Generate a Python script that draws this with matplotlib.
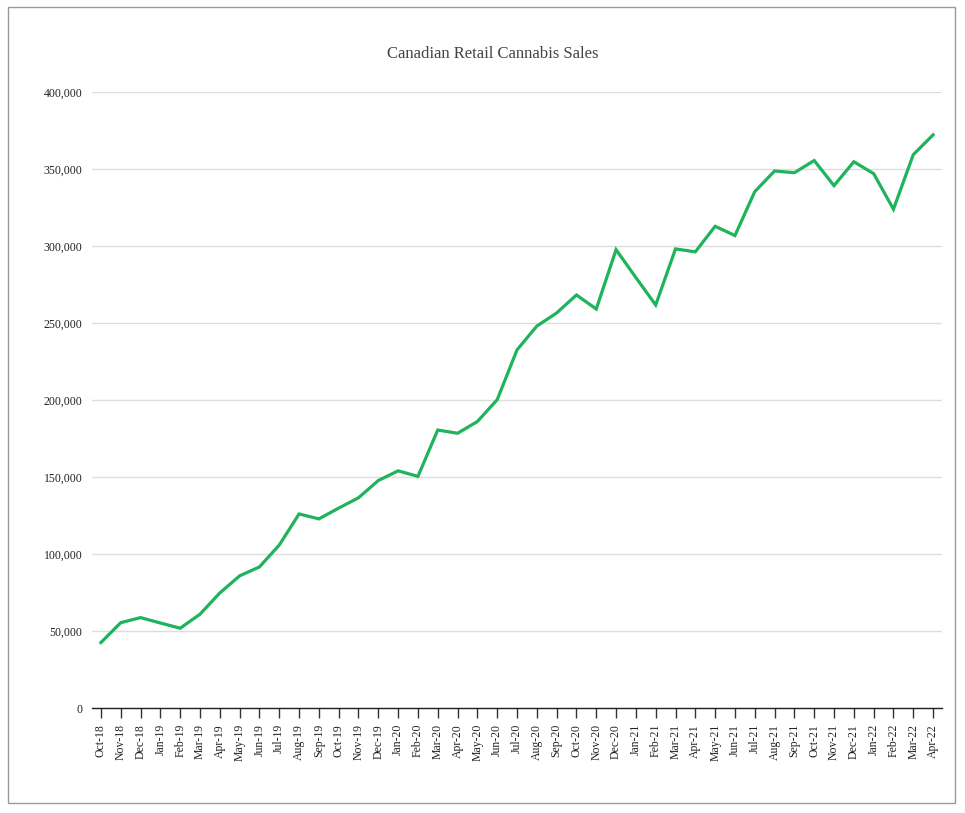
import matplotlib
matplotlib.use('agg')
import matplotlib.pyplot as plt
from matplotlib.patches import Rectangle
from matplotlib import ticker

months = ['Oct-18', 'Nov-18', 'Dec-18', 'Jan-19', 'Feb-19', 'Mar-19', 'Apr-19', 'May-19',
          'Jun-19', 'Jul-19', 'Aug-19', 'Sep-19', 'Oct-19', 'Nov-19', 'Dec-19', 'Jan-20',
          'Feb-20', 'Mar-20', 'Apr-20', 'May-20', 'Jun-20', 'Jul-20', 'Aug-20', 'Sep-20',
          'Oct-20', 'Nov-20', 'Dec-20', 'Jan-21', 'Feb-21', 'Mar-21', 'Apr-21', 'May-21',
          'Jun-21', 'Jul-21', 'Aug-21', 'Sep-21', 'Oct-21', 'Nov-21', 'Dec-21', 'Jan-22',
          'Feb-22', 'Mar-22', 'Apr-22']
sales = [42500, 55400, 58700, 55200, 51800, 60900, 74700, 85800,
         91600, 105800, 126000, 122800, 129800, 136500, 147700, 154000,
         150400, 180500, 178400, 186000, 200200, 232500, 248000, 256500,
         268200, 259100, 297600, 279500, 261700, 298100, 296200, 312800,
         306800, 335300, 348700, 347600, 355500, 339200, 354700, 347000,
         323900, 359300, 372200]

plt.rcParams['font.family'] = ['Liberation Serif', 'DejaVu Serif']

fig = plt.figure(figsize=(9.65, 8.13), dpi=100)
ax = fig.add_axes([92/965, 105/813, 850/965, 616/813])

x = list(range(len(months)))
ax.plot(x, sales, color='#1fb35b', linewidth=2.3, solid_joinstyle='miter')

ax.set_xlim(-0.45, len(months) - 1 + 0.45)
ax.set_ylim(0, 400000)
ax.set_yticks(range(0, 400001, 50000))
ax.yaxis.set_major_formatter(ticker.FuncFormatter(lambda v, p: '{:,.0f}'.format(v)))
ax.set_xticks(x)
ax.set_xticklabels(months, rotation=90, fontsize=8.5, color='#222222')
ax.tick_params(axis='y', length=0, labelsize=8.5, labelcolor='#222222', pad=7)
ax.tick_params(axis='x', length=7.5, width=1, color='#333333', pad=4)

ax.grid(axis='y', color='#dddddd', linewidth=1)
ax.set_axisbelow(True)
for s in ['top', 'right', 'left']:
    ax.spines[s].set_visible(False)
ax.spines['bottom'].set_color('#222222')
ax.spines['bottom'].set_linewidth(1)

fig.text(493/965, 1 - 54/813, 'Canadian Retail Cannabis Sales', ha='center', va='center',
         fontsize=12, color='#444444')

fig.patches.append(Rectangle((8/965, 10/813), 947/965, 796/813, transform=fig.transFigure,
                             fill=False, edgecolor='#999999', linewidth=1))

fig.savefig('out.png', dpi=100)
